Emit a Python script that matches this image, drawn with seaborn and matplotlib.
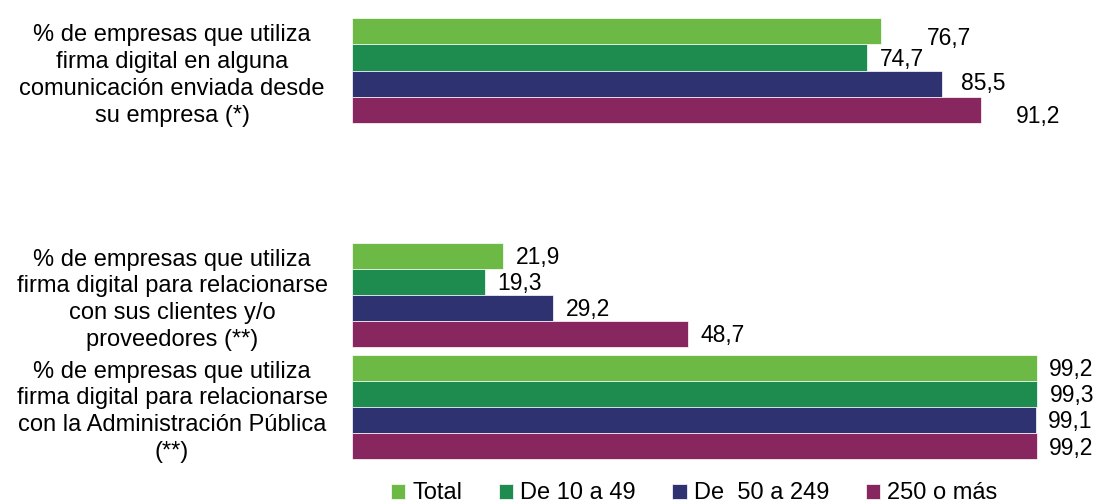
import pandas as pd
import matplotlib.pyplot as plt
import seaborn as sns

# Data
categories = [
    "% de empresas que utiliza\nfirma digital en alguna\ncomunicación enviada desde\nsu empresa (*)",
    "% de empresas que utiliza\nfirma digital para relacionarse\ncon sus clientes y/o\nproveedores (**)",
    "% de empresas que utiliza\nfirma digital para relacionarse\ncon la Administración Pública\n(**)",
]
series = ["Total", "De 10 a 49", "De  50 a 249", "250 o más"]
total = [76.7, 21.9, 99.2]
de_10_49 = [74.7, 19.3, 99.3]
de_50_249 = [85.5, 29.2, 99.1]
de_250 = [91.2, 48.7, 99.2]

colors = ["#6cb945", "#1d8c4e", "#2e3270", "#87265f"]

# Long format table for seaborn
rows = []
for name, vals in zip(series, [total, de_10_49, de_50_249, de_250]):
    for cat, v in zip(categories, vals):
        rows.append({"categoria": cat, "tamaño": name, "valor": v})
df = pd.DataFrame(rows)

# empty slot between the first and second group, as in the original
order = [categories[0], " ", categories[1], categories[2]]

sns.set_style("white")
plt.rcParams["font.family"] = ["Liberation Sans", "DejaVu Sans"]
plt.rcParams["text.color"] = "black"
plt.rcParams["ytick.color"] = "black"

fig = plt.figure(figsize=(11, 5.04), dpi=100)
ax = fig.add_axes([0.32, 0.0813, 0.6273, 0.890])

sns.barplot(data=df, y="categoria", x="valor", hue="tamaño", order=order,
            hue_order=series, palette=colors, saturation=1, orient="h",
            width=0.93, edgecolor="white", linewidth=0.5, ax=ax)

ax.set_xlim(0, 100)
ax.set_ylim(3.5, -0.5)
ax.set_xlabel("")
ax.set_ylabel("")
ax.set_xticks([])
ax.tick_params(axis="y", length=0, pad=129.6, labelsize=17, labelcolor="black")
for lbl in ax.get_yticklabels():
    lbl.set_ha("center")
    lbl.set_multialignment("center")
    lbl.set_linespacing(1.28)
    lbl.set_y(lbl.get_position()[1])
sns.despine(ax=ax, left=True, bottom=True)

# Value labels, with the few odd placements of the original (offsets in px)
pad = 9
nudges = {("Total", 0): (33, -7), ("De  50 a 249", 0): (7, 0),
          ("250 o más", 0): (22, -7)}
for i, (name, cont) in enumerate(zip(series, ax.containers)):
    labels = [f"{b.get_width():.1f}".replace(".", ",") for b in cont]
    anns = ax.bar_label(cont, labels=labels, padding=pad, fontsize=16.5,
                        color="black")
    for b, ann in zip(cont, anns):
        slot = int(round(b.get_y() + b.get_height() / 2 - (i - 1.5) * 0.2325))
        cat_i = [0, None, 1, 2][slot]
        dx, dy = nudges.get((name, cat_i), (0, -2))
        ann.xyann = (pad + dx * 0.72, dy * 0.72)

handles, labs = ax.get_legend_handles_labels()
leg = ax.legend(handles, labs, loc="center", bbox_to_anchor=(0.631, 0.021),
                bbox_transform=fig.transFigure, ncol=4, frameon=False,
                fontsize=17, handlelength=0.6, handleheight=0.6,
                handletextpad=0.3, columnspacing=1.55)
for t in leg.get_texts():
    t.set_color("black")

fig.savefig("out.png", dpi=100)
